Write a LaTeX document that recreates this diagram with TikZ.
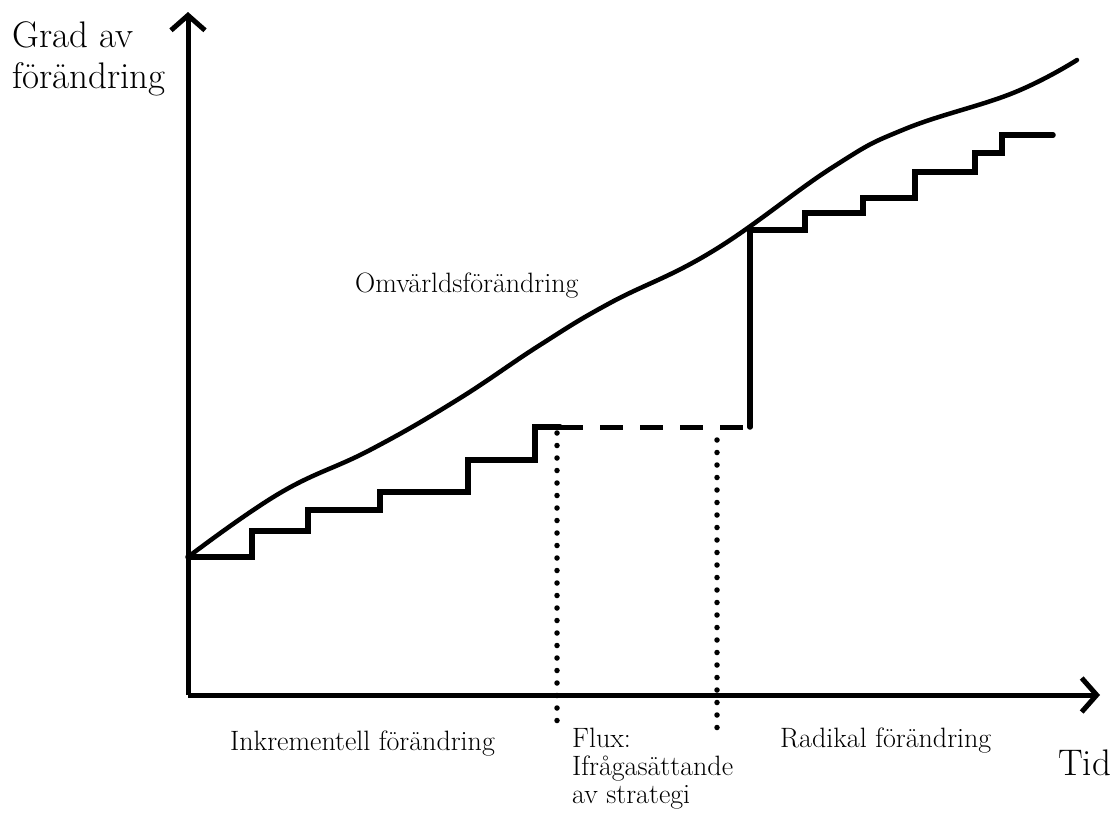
\documentclass[tikz,border=0pt]{standalone}
\usetikzlibrary{arrows.meta}

\tikzset{
  axis/.style={line width=5pt, -{Straight Barb[length=15pt,width=34pt,line width=5pt]}},
  curve/.style={line width=4.5pt, line cap=round, line join=round},
  stairs/.style={line width=5.5pt, line cap=round, line join=miter},
  flux/.style={line width=5pt, dash pattern=on 23pt off 17pt},
  dotline/.style={line width=5.5pt, line cap=round, dash pattern=on 0pt off 12.5pt},
  lbl/.style={inner sep=0pt, anchor=base west, font=\fontsize{28}{28}\selectfont},
  big/.style={inner sep=0pt, anchor=base west, font=\fontsize{37}{41}\selectfont}
}

\begin{document}
\begin{tikzpicture}[x=1pt, y=-1pt]
            \useasboundingbox (0,0) rectangle (1117,828);

            \coordinate (O) at (188, 695);
            \coordinate (Y) at (188, 12);
            \coordinate (X) at (1100, 695);

            % axes
            \draw[axis] (O) -- (Y);
            \draw[axis] (O) -- (X);

            % omvaerldsfoeraendring
            \draw[curve] plot[smooth, tension=0.7] coordinates {
                (188,557) (280,493) (370,450) (457,400) (540,345)
                (610,303) (713,251) (833,167) (905,129) (1013,93)
                (1077,60)};

            % inkrementell
            \draw[stairs] (188,557) -- (252,557) -- (252,531) -- (308,531)
                -- (308,510) -- (380,510) -- (380,492) -- (468,492)
                -- (468,460) -- (535,460) -- (535,427) -- (560,427);
            \draw[flux] (560,427) -- (750,427);
            % radikal
            \draw[stairs] (750,427) -- (750,230) -- (805,230) -- (805,213)
                -- (863,213) -- (863,198) -- (915,198) -- (915,172)
                -- (975,172) -- (975,153) -- (1002,153) -- (1002,135)
                -- (1053,135);

            \draw[dotline] (557,433) -- (557,730);
            \draw[dotline] (717,440) -- (717,733);

            \node[big, align=left] (grad) at (12,88) {Grad av\\förändring};
            \node[big] (tid) at (1058,775) {Tid};
            \node[lbl] (omv) at (355,292) {Omvärldsförändring};
            \node[lbl] (ink) at (230,750) {Inkrementell förändring};
            \node[lbl, align=left] (fluxtext) at (572,803) {Flux:\\Ifrågasättande\\av strategi};
            \node[lbl] (rad) at (780,747) {Radikal förändring};
        \end{tikzpicture}
\end{document}
